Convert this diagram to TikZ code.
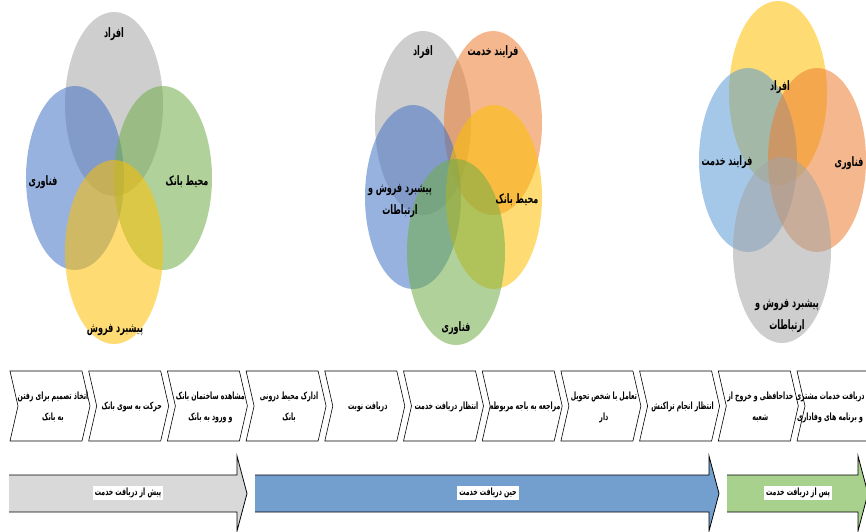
\documentclass[tikz,border=0pt]{standalone}
\usepackage{fontspec}
\usepackage{xcolor}
\usepackage{tikz}
\usetikzlibrary{positioning}
\TeXXeTstate=1
\newfontfamily\arabicfont[Script=Arabic,FakeStretch=0.62]{DejaVu Sans}
\newcommand{\rtl}[1]{\beginR #1\endR}

\definecolor{vgray}{HTML}{A5A5A5}
\definecolor{vblue}{HTML}{4472C4}
\definecolor{vlblue}{HTML}{5B9BD5}
\definecolor{vgreen}{HTML}{70AD47}
\definecolor{vyellow}{HTML}{FFC000}
\definecolor{vorange}{HTML}{ED7D31}
\definecolor{bandgray}{HTML}{D9D9D9}
\definecolor{bandblue}{HTML}{729FCD}
\definecolor{bandgreen}{HTML}{A9D18E}

\begin{document}
\begin{tikzpicture}[x=1pt, y=-1pt,
  venn/.style={fill opacity=0.55},
  vlabel/.style={font=\arabicfont\bfseries\fontsize{13}{22}\selectfont, align=center, inner sep=0pt},
  chev/.style={draw=black, fill=white, line width=0.6pt, line join=miter},
  clabel/.style={font=\arabicfont\bfseries\fontsize{10}{21}\selectfont, align=center, inner sep=0pt},
  band/.style={draw=black, line width=0.8pt, line join=miter},
  blabel/.style={font=\arabicfont\bfseries\fontsize{10}{11}\selectfont, fill=white, inner sep=2pt},
]
\clip (0,0) rectangle (866,531);

% first venn
\fill[venn, vgray]   (114,104) ellipse [x radius=49, y radius=92];
\fill[venn, vblue]   (75,178)  ellipse [x radius=49, y radius=92];
\fill[venn, vgreen]  (163,178) ellipse [x radius=49, y radius=92];
\fill[venn, vyellow] (114,252) ellipse [x radius=49, y radius=92];
\node[vlabel] (a-people) at (114,34)  {\rtl{افراد}};
\node[vlabel] (a-tech)   at (43,182)  {\rtl{فناوری}};
\node[vlabel] (a-bank)   at (187,182) {\rtl{محیط بانک}};
\node[vlabel] (a-sales)  at (115,330) {\rtl{پیشبرد فروش}};

% second venn
\fill[venn, vgray]   (423,123) ellipse [x radius=48, y radius=92];
\fill[venn, vorange] (493,123) ellipse [x radius=49, y radius=92];
\fill[venn, vblue]   (413,197) ellipse [x radius=48, y radius=92];
\fill[venn, vyellow] (494,197) ellipse [x radius=48, y radius=92];
\fill[venn, vgreen]  (456,252) ellipse [x radius=49, y radius=93];
\node[vlabel] (b-people)  at (423,52)  {\rtl{افراد}};
\node[vlabel] (b-service) at (493,52)  {\rtl{فرایند خدمت}};
\node[vlabel] (b-sales)   at (400,201) {\rtl{پیشبرد فروش و}\\\rtl{ارتباطات}};
\node[vlabel] (b-bank)    at (517,200) {\rtl{محیط بانک}};
\node[vlabel] (b-tech)    at (456,328) {\rtl{فناوری}};

% third venn
\fill[venn, vyellow] (778,93)  ellipse [x radius=49, y radius=92];
\fill[venn, vlblue]  (748,160) ellipse [x radius=49, y radius=92];
\fill[venn, vorange] (817,160) ellipse [x radius=49, y radius=92];
\fill[venn, vgray]   (782,250) ellipse [x radius=49, y radius=93];
\node[vlabel] (c-people)  at (780,87)  {\rtl{افراد}};
\node[vlabel] (c-service) at (727,162) {\rtl{فرایند خدمت}};
\node[vlabel] (c-tech)    at (849,163) {\rtl{فناوری}};
\node[vlabel] (c-sales)   at (787,316) {\rtl{پیشبرد فروش و}\\\rtl{ارتباطات}};

% journey steps
\foreach \i/\dx/\txt in {
  1/43/{\rtl{اتخاذ تصمیم برای رفتن}\\\rtl{به بانک}},
  2/43/{\rtl{حرکت به سوی بانک}},
  3/43/{\rtl{مشاهده ساختمان بانک}\\\rtl{و ورود به بانک}},
  4/43/{\rtl{ادارک محیط درونی}\\\rtl{بانک}},
  5/43/{\rtl{دریافت نوبت}},
  6/43/{\rtl{انتظار دریافت خدمت}},
  7/43/{\rtl{مراجعه به باجه مربوطه}},
  8/43/{\rtl{تعامل با شخص تحویل}\\\rtl{دار}},
  9/43/{\rtl{انتظار انجام تراکنش}},
  10/42/{\rtl{خداحافظی و خروج از}\\\rtl{شعبه}},
  11/33/{\rtl{دریافت خدمات مشتری}\\\rtl{و برنامه های وفاداری}}} {
  \pgfmathsetmacro{\xs}{10+78.7*(\i-1)}
  \draw[chev] (\xs,371) -- ++(72,0) -- ++(8,35) -- ++(-8,35) -- ++(-72,0)
    -- ++(8,-35) -- cycle;
  \node[clabel] (step\i) at (\xs+\dx,407) {\txt};
}

% phases
\foreach \xa/\xb/\col in {9/237/bandgray, 255/709/bandblue, 727/858/bandgreen} {
  \fill[\col] (\xa,475) -- (\xb,475) -- (\xb,456) -- (\xb+10,493.5) -- (\xb,531)
    -- (\xb,512) -- (\xa,512) -- cycle;
  \draw[band] (\xa,475) -- (\xb,475) -- (\xb,456) -- (\xb+10,493.5) -- (\xb,531)
    -- (\xb,512) -- (\xa,512);
}
\node[blabel] (before) at (128,493) {\rtl{پیش از دریافت خدمت}};
\node[blabel] (during) at (488,493) {\rtl{حین دریافت خدمت}};
\node[blabel] (after)  at (798,493) {\rtl{پس از دریافت خدمت}};

\end{tikzpicture}
\end{document}
